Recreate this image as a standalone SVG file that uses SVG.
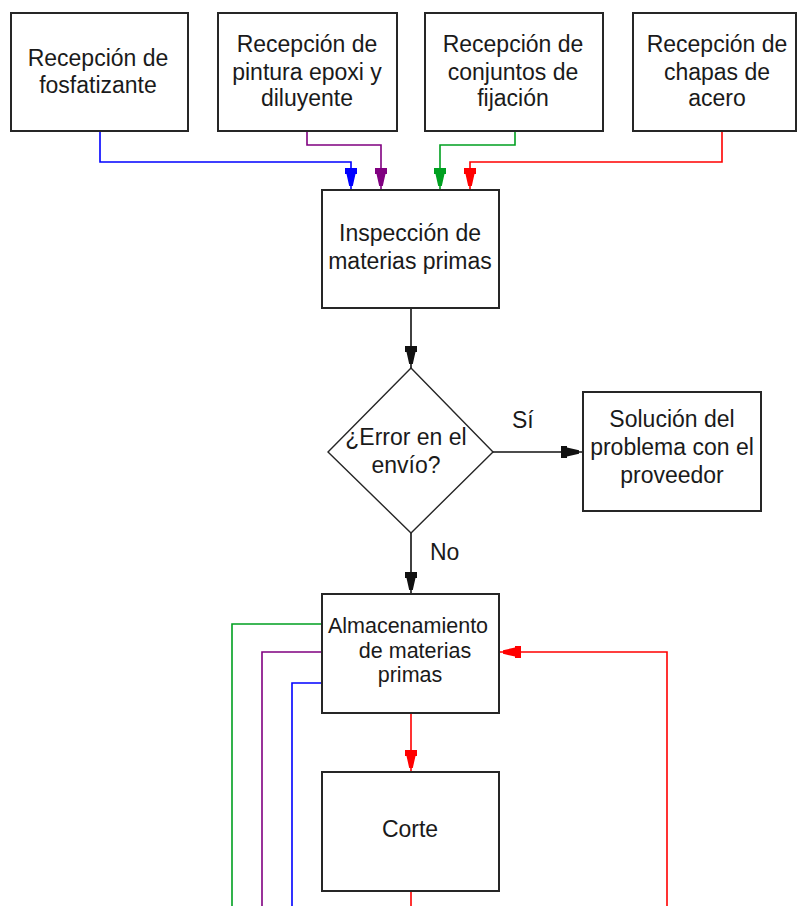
<svg xmlns="http://www.w3.org/2000/svg" width="802" height="906" viewBox="0 0 802 906">
  <style>
    .box { fill: #ffffff; stroke: #262626; stroke-width: 2; }
    .dia { fill: #ffffff; stroke: #262626; stroke-width: 1.4; }
    .t { font-family: "Liberation Sans", Arial, sans-serif; font-size: 23px; fill: #1a1a1a; text-anchor: middle; }
    .ts { font-size: 21.5px; }
    .lbl { font-family: "Liberation Sans", Arial, sans-serif; font-size: 23px; fill: #1a1a1a; }
    .c { fill: none; stroke-width: 1.6; }
    .k { stroke: #111111; }
    .b { stroke: #0000ff; }
    .p { stroke: #800080; }
    .g { stroke: #00a020; }
    .r { stroke: #ff0000; }
  </style>
  <defs>
    <!-- arrowhead: square collar, then a tapering wedge down to the line -->
    <path id="tip" d="M-22,-6 H-16 V-4.5 L-4,-1.8 V1.8 L-16,4.5 V6 H-22 Z"/>
    <marker id="ak" markerUnits="userSpaceOnUse" markerWidth="24" markerHeight="14" refX="0" refY="0" viewBox="-23 -7 24 14" orient="auto" overflow="visible">
      <use href="#tip" fill="#111111"/>
    </marker>
    <marker id="ab" markerUnits="userSpaceOnUse" markerWidth="24" markerHeight="14" refX="0" refY="0" viewBox="-23 -7 24 14" orient="auto" overflow="visible">
      <use href="#tip" fill="#0000ff"/>
    </marker>
    <marker id="ap" markerUnits="userSpaceOnUse" markerWidth="24" markerHeight="14" refX="0" refY="0" viewBox="-23 -7 24 14" orient="auto" overflow="visible">
      <use href="#tip" fill="#800080"/>
    </marker>
    <marker id="ag" markerUnits="userSpaceOnUse" markerWidth="24" markerHeight="14" refX="0" refY="0" viewBox="-23 -7 24 14" orient="auto" overflow="visible">
      <use href="#tip" fill="#00a020"/>
    </marker>
    <marker id="ar" markerUnits="userSpaceOnUse" markerWidth="24" markerHeight="14" refX="0" refY="0" viewBox="-23 -7 24 14" orient="auto" overflow="visible">
      <use href="#tip" fill="#ff0000"/>
    </marker>
  </defs>

  <rect width="802" height="906" fill="#ffffff"/>

  <!-- connectors -->
  <g id="connectors">
    <path class="c b" d="M100,131 V162 H351 V190" marker-end="url(#ab)"/>
    <path class="c p" d="M307,131 V145 H381 V190" marker-end="url(#ap)"/>
    <path class="c g" d="M515,131 V145 H440 V190" marker-end="url(#ag)"/>
    <path class="c r" d="M722,131 V162 H470 V190" marker-end="url(#ar)"/>
    <path class="c k" d="M411,308 V368" marker-end="url(#ak)"/>
    <path class="c k" d="M493,452 H583" marker-end="url(#ak)"/>
    <path class="c k" d="M411,533 V594" marker-end="url(#ak)"/>
    <path class="c g" d="M322,624 H232 V906"/>
    <path class="c p" d="M322,652 H262 V906"/>
    <path class="c b" d="M322,683 H292 V906"/>
    <path class="c r" d="M411,713 V772" marker-end="url(#ar)"/>
    <path class="c r" d="M667,906 V652 H499" marker-end="url(#ar)"/>
    <path class="c r" d="M411,891 V906"/>
    <text class="lbl" x="512" y="428">Sí</text>
    <text class="lbl" x="430" y="560">No</text>
  </g>

  <!-- nodes -->
  <g id="n-fosfatizante">
    <rect class="box" x="11" y="13" width="177" height="118"/>
    <text class="t" x="98" y="66">Recepción de</text>
    <text class="t" x="98" y="93">fosfatizante</text>
  </g>
  <g id="n-pintura">
    <rect class="box" x="218" y="13" width="179" height="118"/>
    <text class="t" x="307" y="52">Recepción de</text>
    <text class="t" x="307" y="80">pintura epoxi y</text>
    <text class="t" x="307" y="106">diluyente</text>
  </g>
  <g id="n-conjuntos">
    <rect class="box" x="425" y="13" width="178" height="118"/>
    <text class="t" x="513" y="52">Recepción de</text>
    <text class="t" x="513" y="80">conjuntos de</text>
    <text class="t" x="513" y="106">fijación</text>
  </g>
  <g id="n-chapas">
    <rect class="box" x="633" y="13" width="163" height="118"/>
    <text class="t" x="717" y="52">Recepción de</text>
    <text class="t" x="717" y="80">chapas de</text>
    <text class="t" x="717" y="106">acero</text>
  </g>
  <g id="n-inspeccion">
    <rect class="box" x="322" y="190" width="177" height="118"/>
    <text class="t" x="410" y="241">Inspección de</text>
    <text class="t" x="410" y="269">materias primas</text>
  </g>
  <g id="n-error">
    <polygon class="dia" points="411,368 493,452 411,533 328,452"/>
    <text class="t" x="406" y="445">¿Error en el</text>
    <text class="t" x="406" y="473">envío?</text>
  </g>
  <g id="n-solucion">
    <rect class="box" x="583" y="392" width="178" height="119"/>
    <text class="t" x="672" y="427">Solución del</text>
    <text class="t" x="672" y="455">problema con el</text>
    <text class="t" x="672" y="483">proveedor</text>
  </g>
  <g id="n-almacenamiento">
    <rect class="box" x="322" y="594" width="177" height="119"/>
    <text class="t ts" x="408" y="633">Almacenamiento</text>
    <text class="t ts" x="415" y="658">de materias</text>
    <text class="t ts" x="410" y="682">primas</text>
  </g>
  <g id="n-corte">
    <rect class="box" x="322" y="772" width="177" height="119"/>
    <text class="t" x="410" y="837">Corte</text>
  </g>
</svg>
